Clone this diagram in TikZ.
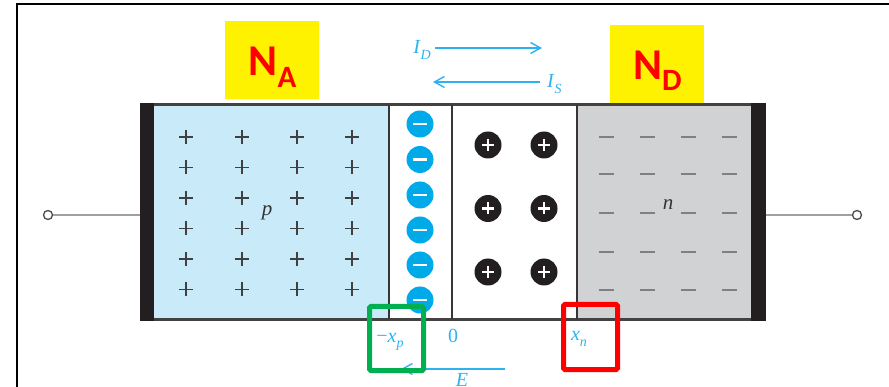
\documentclass[tikz,border=0pt]{standalone}
\usepackage{fontspec}
\setmainfont{Liberation Serif}
\newfontfamily\calib{Carlito}
\usetikzlibrary{arrows.meta}
\definecolor{pblue}{HTML}{C9EAF9}
\definecolor{ngray}{HTML}{D1D2D4}
\definecolor{ionblue}{HTML}{00AAE8}
\definecolor{lblue}{HTML}{2EB2EE}
\definecolor{endblack}{HTML}{231F20}
\definecolor{boxgreen}{HTML}{00B050}
\definecolor{leadgray}{HTML}{A0A0A0}
\newcommand{\mysub}[1]{\raisebox{-0.28em}{\fontsize{14}{14}\selectfont\textit{#1}}}
\tikzset{
  bodyline/.style={draw=endblack!85, line width=2.4pt},
  sepline/.style={draw=endblack!90, line width=2pt},
  pmark/.style={draw=black!75, line width=1.1pt},
  nmark/.style={draw=black!50, line width=1.4pt},
  negion/.style={circle, fill=ionblue, minimum size=27pt, inner sep=0pt},
  posion/.style={circle, fill=endblack, minimum size=27pt, inner sep=0pt},
  ionsign/.style={draw=white, line width=2.6pt},
  lead/.style={draw=leadgray, line width=2.2pt},
  term/.style={circle, draw=black!70, fill=white, line width=1.3pt, minimum size=9pt, inner sep=0pt},
  ybox/.style={fill=yellow, inner sep=0pt},
  dlabel/.style={text=red, font=\calib\bfseries\fontsize{44}{44}\selectfont, inner sep=0pt, anchor=base},
  curr/.style={draw=lblue, line width=1.4pt, -{Straight Barb[length=10pt,width=11pt,line width=1.4pt]}},
  clabel/.style={text=lblue, font=\fontsize{20}{20}\selectfont, inner sep=0pt},
  hilite/.style={line width=5pt, rounded corners=1.5pt}
}
\begin{document}
\begin{tikzpicture}[x=1pt,y=-1pt]
\useasboundingbox (0,0) rectangle (889,387);
\clip (0,0) rectangle (889,387);
% outer frame
\draw[line width=2.2pt] (17,390) -- (17,4) -- (892,4);
% leads
\node[term] (lt) at (48,215) {};
\node[term] (rt) at (857,215) {};
\coordinate (lb) at (140,215);
\coordinate (rb) at (766,215);
\draw[lead] (lt) -- (lb);
\draw[lead] (rb) -- (rt);
% regions
\fill[pblue] (154,105) rectangle (389,319);
\fill[ngray] (577,105) rectangle (751,319);
\draw[bodyline] (141,104.5) rectangle (765,319.5);
\fill[endblack] (140,103) rectangle (154,321);
\fill[endblack] (751,103) rectangle (766,321);
\draw[sepline] (389,105) -- (389,319);
\draw[sepline] (452,105) -- (452,319);
\draw[sepline] (577,105) -- (577,319);
% p-region acceptor marks
\foreach \x in {186,242,297,352}
  \foreach \y in {137,167.5,198,228.5,259,289.5}
    \draw[pmark] (\x-7,\y) -- (\x+7,\y) (\x,\y-7) -- (\x,\y+7);
\node[font=\itshape\fontsize{21}{21}\selectfont, text=black!80, inner sep=0pt] (plab) at (267,213) {p};
% n-region donor marks
\foreach \x in {606,647,688,729}
  \foreach \y in {137,174,213,252,290}
    \draw[nmark] (\x-7.5,\y) -- (\x+7.5,\y);
\node[font=\itshape\fontsize{21}{21}\selectfont, text=black!80, inner sep=0pt] (nlab) at (668,205) {n};
% negative ions
\foreach \y [count=\i] in {124,159.5,195,230,265,300} {
  \node[negion] (neg\i) at (420,\y) {};
  \draw[ionsign] (420-7,\y) -- (420+7,\y);
}
% positive ions
\foreach \x [count=\j] in {488,544}
  \foreach \y [count=\i] in {145,208.5,272} {
    \node[posion] (pos\j\i) at (\x,\y) {};
    \draw[ionsign, line width=2.3pt] (\x-6,\y) -- (\x+6,\y) (\x,\y-6) -- (\x,\y+6);
  }
% doping boxes
\node[ybox, minimum width=94pt, minimum height=78pt] (nabox) at (272,60) {};
\node[dlabel] (na) at (272.5,76) {N\raisebox{-12pt}{\fontsize{31}{31}\selectfont A}};
\node[ybox, minimum width=94pt, minimum height=78pt] (ndbox) at (657,64) {};
\node[dlabel] (nd) at (657.5,80) {N\raisebox{-11pt}{\fontsize{31}{31}\selectfont D}};
% currents
\node[clabel, anchor=base east] (id) at (431,54) {\textit{I}\mysub{D}};
\coordinate (ida) at (435,48);
\coordinate (idb) at (542,48);
\draw[curr] (ida) -- (idb);
\node[clabel, anchor=base west] (is) at (547,88) {\textit{I}\mysub{S}};
\coordinate (isa) at (540,82);
\coordinate (isb) at (433,82);
\draw[curr] (isa) -- (isb);
% position labels
\node[clabel, anchor=base] (xp) at (390,342) {−\textit{x}\mysub{p}};
\node[clabel, anchor=base] (zero) at (453,343) {0};
\node[clabel, anchor=base] (xn) at (579,341) {\textit{x}\mysub{n}};
% field
\coordinate (ea) at (505,369);
\coordinate (eb) at (401,369);
\draw[curr] (ea) -- (eb);
\node[clabel, anchor=base] (elab) at (462,386) {\textit{E}};
% highlight boxes
\draw[hilite, draw=boxgreen] (369.5,306.5) rectangle (423.5,370.5);
\draw[hilite, draw=red] (563.5,304.5) rectangle (617.5,369.5);
\end{tikzpicture}
\end{document}
